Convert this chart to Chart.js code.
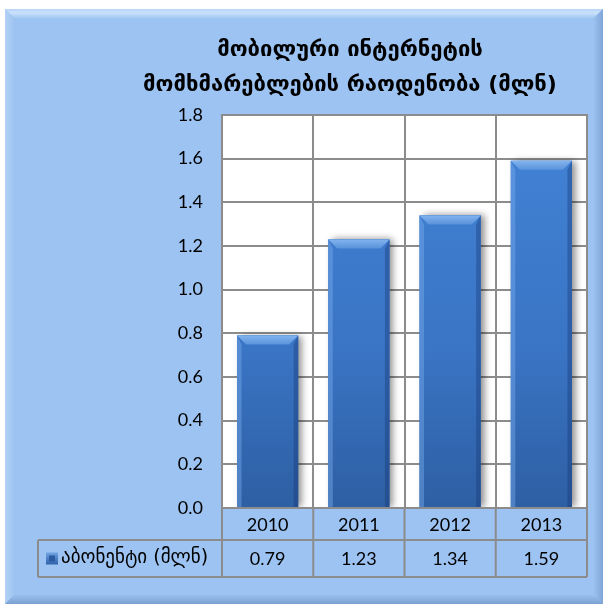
<!DOCTYPE html>
<html>
<head>
<meta charset="utf-8">
<script src="https://cdn.jsdelivr.net/npm/chart.js"></script>
<style>
  html, body { margin: 0; padding: 0; background: #ffffff; }
  #wrap { width: 605px; height: 608px; }
</style>
</head>
<body>
<div id="wrap"><canvas id="mobileChart" width="605" height="608"></canvas></div>
<script>
// chart data
const categories = ['2010', '2011', '2012', '2013'];
const subscribers = [0.79, 1.23, 1.34, 1.59];
const seriesLabel = 'აბონენტი (მლნ)';
const titleLines = ['მობილური ინტერნეტის', 'მომხმარებლების რაოდენობა (მლნ)'];
const yMax = 1.8;
const yStep = 0.2;

const FRAME_BG = '#9cc3f1';
const GRID = '#8c8c8c';
const GEO_FONT = '"DejaVu Sans", "Noto Sans", sans-serif';
const NUM_FONT = 'Lato, "Open Sans", sans-serif';

// frame, plot background, title
const framePlugin = {
    id: 'frame',
    beforeDraw(chart) {
        const ctx = chart.ctx;
        const x0 = 5, y0 = 9, x1 = 603, y1 = 604, b = 10;
        ctx.save();
        ctx.fillStyle = '#ffffff';
        ctx.fillRect(0, 0, chart.width, chart.height);
        ctx.fillStyle = FRAME_BG;
        ctx.fillRect(x0, y0, x1 - x0, y1 - y0);

        // bevel edges
        let g = ctx.createLinearGradient(0, y0, 0, y0 + b);
        g.addColorStop(0, '#b8d6f7');
        g.addColorStop(0.4, '#c9e0fa');
        g.addColorStop(1, FRAME_BG);
        ctx.fillStyle = g;
        ctx.beginPath();
        ctx.moveTo(x0, y0); ctx.lineTo(x1, y0); ctx.lineTo(x1 - b, y0 + b); ctx.lineTo(x0 + b, y0 + b);
        ctx.closePath(); ctx.fill();

        g = ctx.createLinearGradient(x0, 0, x0 + b, 0);
        g.addColorStop(0, '#b3d1f5');
        g.addColorStop(1, FRAME_BG);
        ctx.fillStyle = g;
        ctx.beginPath();
        ctx.moveTo(x0, y0); ctx.lineTo(x0 + b, y0 + b); ctx.lineTo(x0 + b, y1 - b); ctx.lineTo(x0, y1);
        ctx.closePath(); ctx.fill();

        g = ctx.createLinearGradient(x1 - b, 0, x1, 0);
        g.addColorStop(0, FRAME_BG);
        g.addColorStop(1, '#7fa6d6');
        ctx.fillStyle = g;
        ctx.beginPath();
        ctx.moveTo(x1, y0); ctx.lineTo(x1, y1); ctx.lineTo(x1 - b, y1 - b); ctx.lineTo(x1 - b, y0 + b);
        ctx.closePath(); ctx.fill();

        g = ctx.createLinearGradient(0, y1 - b, 0, y1);
        g.addColorStop(0, FRAME_BG);
        g.addColorStop(1, '#7aa0d0');
        ctx.fillStyle = g;
        ctx.beginPath();
        ctx.moveTo(x0, y1); ctx.lineTo(x1, y1); ctx.lineTo(x1 - b, y1 - b); ctx.lineTo(x0 + b, y1 - b);
        ctx.closePath(); ctx.fill();

        // plot area
        const a = chart.chartArea;
        ctx.fillStyle = '#ffffff';
        ctx.fillRect(a.left, a.top, a.right - a.left, a.bottom - a.top);

        // title
        ctx.fillStyle = '#000000';
        ctx.font = 'bold 22px ' + GEO_FONT;
        ctx.textAlign = 'center';
        ctx.textBaseline = 'middle';
        ctx.fillText(titleLines[0], 350, 50);
        ctx.fillText(titleLines[1], 350, 85);
        ctx.restore();
    },
    beforeDatasetsDraw(chart) {
        // soft shadow behind bars + plot border
        const ctx = chart.ctx;
        const a = chart.chartArea;
        ctx.save();
        ctx.strokeStyle = GRID;
        ctx.lineWidth = 2;
        ctx.strokeRect(a.left, a.top, a.right - a.left, a.bottom - a.top);
        ctx.beginPath();
        ctx.rect(a.left, a.top, a.right - a.left, a.bottom - a.top);
        ctx.clip();
        chart.getDatasetMeta(0).data.forEach(bar => {
            const l = bar.x - bar.width / 2;
            ctx.shadowColor = 'rgba(0,0,0,0.45)';
            ctx.shadowBlur = 7;
            ctx.shadowOffsetX = 4;
            ctx.shadowOffsetY = 0;
            ctx.fillStyle = '#3a74c2';
            ctx.fillRect(l, bar.y, bar.width, bar.base - bar.y);
        });
        ctx.restore();
    }
};

// bevel on top of bars
const bevelPlugin = {
    id: 'bevel',
    afterDatasetsDraw(chart) {
        const ctx = chart.ctx;
        ctx.save();
        chart.getDatasetMeta(0).data.forEach(bar => {
            const l = bar.x - bar.width / 2, r = bar.x + bar.width / 2;
            const t = bar.y, btm = bar.base, b = 9;
            let g = ctx.createLinearGradient(0, t, 0, t + b);
            g.addColorStop(0, '#82b3ee');
            g.addColorStop(1, '#5a93dc');
            ctx.fillStyle = g;
            ctx.beginPath();
            ctx.moveTo(l, t); ctx.lineTo(r, t); ctx.lineTo(r - b, t + b); ctx.lineTo(l + b, t + b);
            ctx.closePath(); ctx.fill();

            ctx.fillStyle = 'rgba(120,170,235,0.45)';
            ctx.beginPath();
            ctx.moveTo(l, t); ctx.lineTo(l + b * 0.5, t + b); ctx.lineTo(l + b * 0.5, btm); ctx.lineTo(l, btm);
            ctx.closePath(); ctx.fill();

            ctx.fillStyle = 'rgba(20,50,110,0.35)';
            ctx.beginPath();
            ctx.moveTo(r, t); ctx.lineTo(r - b * 0.5, t + b); ctx.lineTo(r - b * 0.5, btm); ctx.lineTo(r, btm);
            ctx.closePath(); ctx.fill();
        });
        ctx.restore();
    }
};

// data table under the axis
const tablePlugin = {
    id: 'dataTable',
    afterDraw(chart) {
        const ctx = chart.ctx;
        const xs = chart.scales.x;
        const a = chart.chartArea;
        const colW = (xs.right - xs.left) / categories.length;
        const rowTop = a.bottom, rowMid = xs.bottom, rowBot = xs.bottom + 37;
        const legLeft = 38;
        ctx.save();
        ctx.strokeStyle = GRID;
        ctx.lineWidth = 2;
        ctx.beginPath();
        ctx.moveTo(xs.left, rowTop); ctx.lineTo(xs.right, rowTop);
        ctx.moveTo(legLeft, rowMid); ctx.lineTo(xs.right, rowMid);
        ctx.moveTo(legLeft, rowBot); ctx.lineTo(xs.right, rowBot);
        ctx.moveTo(legLeft, rowMid); ctx.lineTo(legLeft, rowBot);
        for (let i = 0; i <= categories.length; i++) {
            const x = xs.left + i * colW;
            ctx.moveTo(x, rowTop); ctx.lineTo(x, rowBot);
        }
        ctx.stroke();

        // legend key
        const ky = (rowMid + rowBot) / 2;
        let g = ctx.createLinearGradient(0, ky - 6, 0, ky + 6);
        g.addColorStop(0, '#6fa3e3');
        g.addColorStop(1, '#2f62aa');
        ctx.fillStyle = g;
        ctx.fillRect(46, ky - 6, 12, 12);
        ctx.fillStyle = '#2b5aa0';
        ctx.fillRect(49, ky - 3, 6, 6);

        ctx.fillStyle = '#000000';
        ctx.textBaseline = 'middle';
        ctx.textAlign = 'left';
        ctx.font = '19px ' + GEO_FONT;
        ctx.fillText(seriesLabel, 61, ky);

        ctx.textAlign = 'center';
        ctx.font = '18px ' + NUM_FONT;
        subscribers.forEach((v, i) => {
            ctx.fillText(v.toFixed(2), xs.getPixelForValue(i), ky + 1);
        });
        ctx.restore();
    }
};

const ctx = document.getElementById('mobileChart').getContext('2d');
new Chart(ctx, {
    type: 'bar',
    data: {
        labels: categories,
        datasets: [{
            label: seriesLabel,
            data: subscribers,
            backgroundColor: (c) => {
                const area = c.chart.chartArea;
                if (!area) return '#3b78c8';
                const g = c.chart.ctx.createLinearGradient(0, area.top, 0, area.bottom);
                g.addColorStop(0, '#4283d6');
                g.addColorStop(0.6, '#3a74c4');
                g.addColorStop(1, '#2d5fa3');
                return g;
            },
            borderWidth: 0,
            barPercentage: 0.67,
            categoryPercentage: 1
        }]
    },
    options: {
        responsive: false,
        animation: false,
        devicePixelRatio: 1,
        layout: { padding: { left: 0, top: 115, right: 18, bottom: 68 } },
        plugins: {
            legend: { display: false },
            title: { display: false },
            tooltip: { enabled: false }
        },
        scales: {
            x: {
                grid: { offset: true, color: GRID, lineWidth: 2, drawTicks: false },
                border: { display: false },
                ticks: { color: '#000', padding: 6, font: { family: NUM_FONT, size: 18 } },
                afterFit: (s) => { s.height = 32; }
            },
            y: {
                min: 0,
                max: yMax,
                grid: { color: GRID, lineWidth: 2, drawTicks: false },
                border: { display: false },
                ticks: {
                    stepSize: yStep,
                    color: '#000',
                    padding: 19,
                    font: { family: NUM_FONT, size: 18 },
                    callback: (v) => v.toFixed(1)
                },
                afterFit: (s) => { s.width = 222; }
            }
        }
    },
    plugins: [framePlugin, bevelPlugin, tablePlugin]
});
</script>
</body>
</html>
